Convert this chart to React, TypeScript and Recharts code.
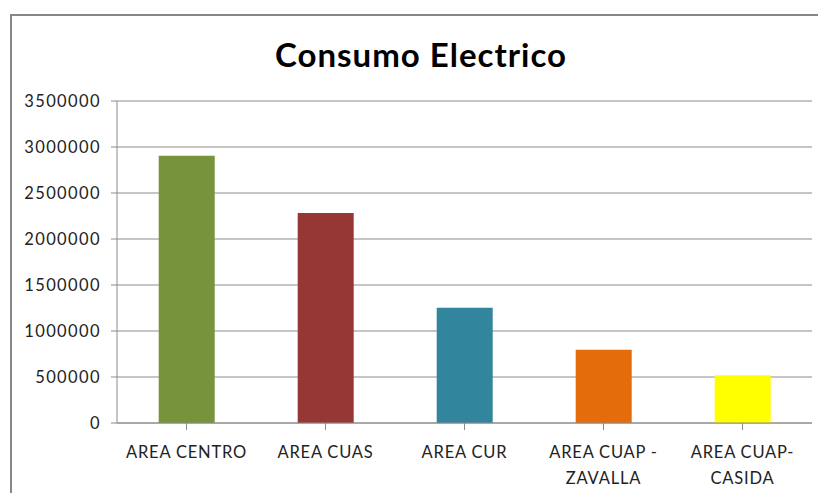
import React from 'react';
import { BarChart, Bar, XAxis, YAxis, CartesianGrid, Cell } from 'recharts';

const categories = ['AREA CENTRO', 'AREA CUAS', 'AREA CUR', 'AREA CUAP - ZAVALLA', 'AREA CUAP-CASIDA'];
const consumo = [2905000, 2283000, 1252000, 795000, 520000];
const tickLines = [['AREA CENTRO'], ['AREA CUAS'], ['AREA CUR'], ['AREA CUAP -', 'ZAVALLA'], ['AREA CUAP-', 'CASIDA']];
const yTicks = [0, 500000, 1000000, 1500000, 2000000, 2500000, 3000000, 3500000];
const barColors = ['#77933C', '#953735', '#31859C', '#E46C0A', '#FFFF00'];

const data = categories.map((name, i) => ({ name, value: consumo[i] }));

const FONT = 'Lato, "Open Sans", sans-serif';

function CategoryTick(props: any) {
  const { x, y, index } = props;
  const lines = tickLines[index] || [props.payload.value];
  return (
    <text
      x={x}
      y={y + 26}
      textAnchor="middle"
      fill="#222"
      fontSize={16.5}
      letterSpacing={0.8}
      fontFamily={FONT}
    >
      {lines.map((l: string, i: number) => (
        <tspan key={i} x={x} dy={i === 0 ? 0 : 26}>
          {l}
        </tspan>
      ))}
    </text>
  );
}

function ValueTick(props: any) {
  const { x, y, payload } = props;
  return (
    <text x={x} y={y} dy={6} textAnchor="end" fill="#222" fontSize={16.5} letterSpacing={1.4} fontFamily={FONT}>
      {payload.value}
    </text>
  );
}

export default function App() {
  return (
    <div style={{ position: 'absolute', left: 0, top: 0, width: 818, height: 493, background: '#fff', overflow: 'hidden' }}>
      <div
        style={{
          position: 'absolute',
          left: 10,
          top: 14,
          width: 830,
          height: 500,
          border: '2px solid #878787',
          boxSizing: 'border-box',
        }}
      />
      <div
        style={{
          position: 'absolute',
          left: 0,
          top: 34,
          width: 842,
          textAlign: 'center',
          fontFamily: FONT,
          fontWeight: 700,
          fontSize: 33,
          letterSpacing: 1,
          color: '#000',
        }}
      >
        Consumo Electrico
      </div>
      <div style={{ position: 'absolute', left: 0, top: 0 }}>
        <BarChart
          width={818}
          height={493}
          data={data}
          margin={{ top: 101, right: 6, left: 17, bottom: 10 }}
          barCategoryGap="30%"
        >
          <CartesianGrid vertical={false} stroke="#8c8c8c" strokeWidth={1} />
          <XAxis
            dataKey="name"
            height={60}
            stroke="#8c8c8c"
            tickSize={7}
            interval={0}
            tick={<CategoryTick />}
          />
          <YAxis
            width={100}
            domain={[0, 3500000]}
            ticks={yTicks}
            stroke="#8c8c8c"
            tickSize={6}
            tickMargin={10}
            interval={0}
            tick={<ValueTick />}
          />
          <Bar dataKey="value" isAnimationActive={false}>
            {data.map((d, i) => (
              <Cell key={d.name} fill={barColors[i]} />
            ))}
          </Bar>
        </BarChart>
      </div>
    </div>
  );
}
